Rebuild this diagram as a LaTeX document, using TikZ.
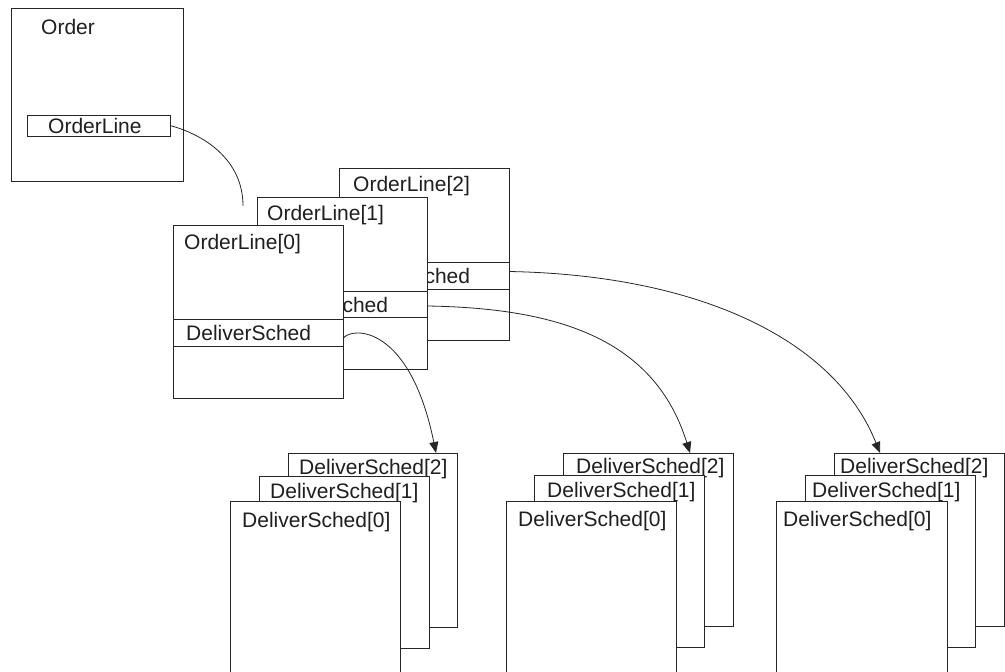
\documentclass[tikz,border=0pt]{standalone}
\usepackage{fontspec}
\setmainfont{Liberation Sans}
\usetikzlibrary{arrows.meta,calc}
\begin{document}
\begin{tikzpicture}[x=1pt,y=-1pt,
  box/.style={draw=black!85, line width=0.9pt, fill=white, inner sep=0pt, outer sep=0pt, anchor=north west},
  txt/.style={anchor=base west, inner sep=0pt, font=\fontsize{21}{25}\selectfont, text=black!88},
  link/.style={draw=black!85, line width=0.8pt},
  arr/.style={link, -{Triangle[length=11pt,width=9pt]}}]
\useasboundingbox (0,0) rectangle (1005,672);
\clip (0,0) rectangle (1005,672);

% Order
\node[box, minimum width=172pt, minimum height=173pt] (order) at (11,8) {};
\node[txt] (ordert) at (41,34) {Order};
\node[box, minimum width=143pt, minimum height=21pt] (olref) at (27,115) {};
\node[txt] (olreft) at (48,133) {OrderLine};
\coordinate (olend) at (243,206);

% OrderLine[2]
\node[box, minimum width=170pt, minimum height=172pt] (ol2) at (339,168) {};
\node[txt] (ol2t) at (353,191) {OrderLine[2]};
\node[box, minimum width=170pt, minimum height=27pt] (b2) at (339,262) {};
\node[txt] (b2t) at (345,283) {DeliverSched};
% OrderLine[1]
\node[box, minimum width=170pt, minimum height=172pt] (ol1) at (257,197) {};
\node[txt] (ol1t) at (267,220) {OrderLine[1]};
\node[box, minimum width=170pt, minimum height=26pt] (b1) at (257,291) {};
\node[txt] (b1t) at (263,312) {DeliverSched};
% OrderLine[0]
\node[box, minimum width=170pt, minimum height=173pt] (ol0) at (173,225) {};
\node[txt] (ol0t) at (184,249) {OrderLine[0]};
\node[box, minimum width=170pt, minimum height=27pt] (b0) at (173,319) {};
\node[txt] (b0t) at (186,340) {DeliverSched};

% Stack 1
\node[box, minimum width=169pt, minimum height=174pt] (d12) at (288,453) {};
\node[txt] (d12t) at (299,474) {DeliverSched[2]};
\node[box, minimum width=170pt, minimum height=172pt] (d11) at (259,476) {};
\node[txt] (d11t) at (270,498) {DeliverSched[1]};
\node[box, minimum width=170pt, minimum height=180pt] (d10) at (230,501) {};
\node[txt] (d10t) at (242,527) {DeliverSched[0]};

% Stack 2
\node[box, minimum width=170pt, minimum height=173pt] (d22) at (563,453) {};
\node[txt] (d22t) at (576,473) {DeliverSched[2]};
\node[box, minimum width=170pt, minimum height=172pt] (d21) at (534,475) {};
\node[txt] (d21t) at (547,497) {DeliverSched[1]};
\node[box, minimum width=170pt, minimum height=180pt] (d20) at (506,501) {};
\node[txt] (d20t) at (518,526) {DeliverSched[0]};

% Stack 3
\node[box, minimum width=170pt, minimum height=173pt] (d32) at (834,453) {};
\node[txt] (d32t) at (840,473) {DeliverSched[2]};
\node[box, minimum width=170pt, minimum height=172pt] (d31) at (805,475) {};
\node[txt] (d31t) at (812,497) {DeliverSched[1]};
\node[box, minimum width=171pt, minimum height=180pt] (d30) at (776,501) {};
\node[txt] (d30t) at (783,526) {DeliverSched[0]};

% connectors
\draw[link] (olref.east) .. controls (205,135) and (243,160) .. (olend);
\draw[arr] ([yshift=-6pt]b0.east) .. controls (352,326) and (410,325) .. ($(d12.north west)+(148,0)$);
\draw[arr] ([yshift=-2pt]b1.east) .. controls (560,308) and (655,340) .. ($(d22.north west)+(127,0)$);
\draw[arr] ([yshift=4pt]b2.east) .. controls (700,275) and (835,340) .. ($(d32.north west)+(46,0)$);
\end{tikzpicture}
\end{document}
